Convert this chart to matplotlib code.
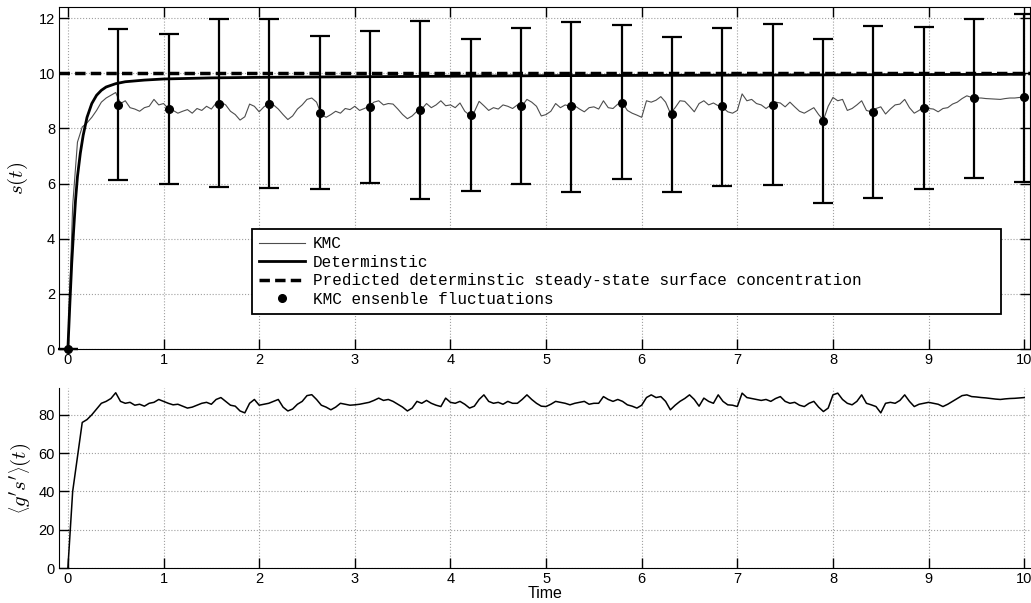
import numpy as np
import matplotlib.pyplot as plt
from matplotlib.lines import Line2D

plt.rcParams['font.family'] = ['Liberation Sans', 'DejaVu Sans']
plt.rcParams['mathtext.fontset'] = 'cm'

# KMC trace, sampled every 0.05 time units
t_kmc = np.arange(0, 10.001, 0.05)
s_kmc = [0, 5.2, 7.5, 8.05, 8.2, 8.4, 8.65, 8.95, 9.1, 9.2,
         9.3, 8.9, 9.0, 8.75, 8.7, 8.62, 8.75, 8.8, 9.05, 8.85,
         8.9, 8.72, 8.65, 8.55, 8.62, 8.68, 8.55, 8.72, 8.65, 8.8,
         8.7, 8.92, 8.95, 8.85, 8.62, 8.5, 8.3, 8.42, 8.88, 8.8,
         8.6, 8.78, 8.9, 8.85, 8.7, 8.5, 8.32, 8.45, 8.7, 8.85,
         9.05, 9.1, 8.95, 8.5, 8.4, 8.5, 8.62, 8.55, 8.72, 8.68,
         8.8, 8.65, 8.72, 8.8, 8.95, 9.0, 8.85, 8.9, 8.88, 8.7,
         8.5, 8.35, 8.45, 8.62, 8.7, 8.9, 8.75, 8.85, 9.0, 8.82,
         8.85, 8.75, 8.92, 8.62, 8.48, 8.6, 8.98, 8.82, 8.65, 8.75,
         8.7, 8.85, 8.8, 8.72, 8.85, 8.82, 9.05, 8.95, 8.8, 8.45,
         8.5, 8.62, 8.9, 8.75, 8.85, 8.8, 8.82, 8.7, 8.6, 8.75,
         8.78, 8.7, 9.0, 8.75, 8.72, 8.88, 8.92, 8.65, 8.55, 8.48,
         8.4, 9.0, 8.95, 9.02, 9.15, 8.95, 8.55, 8.75, 9.0, 8.98,
         8.8, 8.6, 8.9, 9.0, 8.85, 8.92, 8.82, 8.75, 8.6, 8.55,
         8.65, 9.25, 9.0, 9.05, 8.9, 8.85, 8.72, 8.85, 8.95, 8.92,
         8.78, 8.95, 8.78, 8.62, 8.55, 8.65, 8.75, 8.5, 8.3, 8.8,
         9.12, 9.0, 9.05, 8.65, 8.72, 8.85, 9.0, 8.65, 8.6, 8.72,
         8.78, 8.52, 8.7, 8.85, 8.88, 9.05, 8.75, 8.55, 8.65, 8.78,
         8.72, 8.7, 8.6, 8.72, 8.75, 8.88, 8.95, 9.08, 9.18, 9.12,
         9.1, 9.1, 9.08, 9.07, 9.06, 9.05, 9.08, 9.1, 9.1, 9.12,
         9.13]

gs_kmc = [0, 40, 58, 76, 77.5, 80, 83, 86, 87, 88.5,
          91.5, 87, 86, 86.5, 85, 85.5, 84.5, 86, 86.5, 88,
          87, 86, 85.2, 85.5, 84.5, 83.5, 84, 85, 86, 86.5,
          85.5, 88, 89, 87, 85, 84.5, 82, 81, 86, 88,
          85, 85.5, 86, 87, 88, 84, 82, 83, 85.5, 87,
          90, 90.5, 88, 85, 84, 82.6, 84, 86, 85.5, 85,
          85.2, 85.5, 86, 86.5, 87.5, 88.7, 87.5, 88, 87, 85.5,
          84, 82, 83.5, 87, 86, 87.5, 86, 85, 84.3, 88.7,
          86.5, 86, 87, 85.5, 83.5, 84.5, 88, 90.4, 87, 86,
          86.5, 85.5, 87, 86, 86, 88, 90.4, 88, 86, 84.5,
          84.3, 85.5, 87, 86.5, 86, 85.2, 86, 86.5, 87, 85.5,
          86, 86, 89.5, 88, 87, 88, 87, 85.2, 84.5, 83.5,
          85, 89, 90.4, 89, 89.5, 87, 82.6, 85, 87, 88.5,
          90.4, 88, 84.5, 88.7, 87, 86, 90.4, 87, 85.2, 85,
          84.3, 91.3, 89, 88.5, 88, 87.5, 88, 87, 88.5, 89.5,
          87, 86, 86.5, 85, 84.3, 86, 87, 84, 81.7, 83.5,
          90.4, 91.3, 88, 86, 85.2, 87, 90.4, 86, 85.2, 84.3,
          81, 86, 86.5, 86, 87.5, 90.4, 87, 84.3, 85.5, 86,
          86.5, 86, 85.5, 84.3, 85.5, 87, 88.5, 90, 90.4, 89.5,
          89.3, 89, 88.8, 88.5, 88.2, 88, 88.3, 88.5, 88.6, 88.8,
          89]

# deterministic solution
t_det = [0, 0.02, 0.04, 0.06, 0.08, 0.10, 0.13, 0.16, 0.20, 0.25, 0.30, 0.35,
         0.40, 0.50, 0.60, 0.80, 1.0, 1.5, 2.0, 3.0, 4.0, 5.0, 6.0, 7.0, 8.0,
         9.0, 10.0]
s_det = [0, 1.6, 3.1, 4.3, 5.4, 6.25, 7.1, 7.75, 8.4, 8.9, 9.2, 9.38,
         9.5, 9.62, 9.69, 9.75, 9.79, 9.83, 9.85, 9.87, 9.89, 9.91, 9.92, 9.93,
         9.94, 9.95, 9.96]
s_pred = 10.0

# ensemble mean and spread
t_ens = [0, 0.526, 1.053, 1.579, 2.105, 2.632, 3.158, 3.684, 4.211, 4.737,
         5.263, 5.789, 6.316, 6.842, 7.368, 7.895, 8.421, 8.947, 9.474, 10.0]
s_ens = [0, 8.85, 8.7, 8.9, 8.88, 8.57, 8.78, 8.65, 8.47, 8.8,
         8.8, 8.93, 8.52, 8.8, 8.83, 8.28, 8.6, 8.75, 9.1, 9.12]
ens_hi = [0, 11.6, 11.43, 11.97, 11.95, 11.36, 11.54, 11.9, 11.23, 11.64,
          11.87, 11.73, 11.33, 11.64, 11.77, 11.25, 11.72, 11.68, 11.97, 12.15]
ens_lo = [0, 6.13, 5.97, 5.88, 5.84, 5.8, 6.03, 5.45, 5.72, 5.98,
          5.7, 6.15, 5.7, 5.92, 5.93, 5.3, 5.46, 5.8, 6.2, 6.04]

fig = plt.figure(figsize=(10.31, 6.03), dpi=100)
ax1 = fig.add_axes([0.0575, 0.4212, 0.9415, 0.5672])
ax2 = fig.add_axes([0.0575, 0.058, 0.9415, 0.2986])

grid_kw = dict(color='#a0a0a0', linestyle=':', linewidth=0.8)

# top panel
l_kmc, = ax1.plot(t_kmc, s_kmc, color='#4d4d4d', linewidth=0.8)
l_det, = ax1.plot(t_det, s_det, color='black', linewidth=2)
l_pred = ax1.axhline(s_pred, color='black', linewidth=2.5, dashes=(3, 1.5))
yerr = [np.array(s_ens) - np.array(ens_lo), np.array(ens_hi) - np.array(s_ens)]
ax1.errorbar(t_ens, s_ens, yerr=yerr, fmt='o', color='black', markersize=5.5,
             elinewidth=1.6, capsize=7, capthick=1.6, clip_on=False)
h_ens = Line2D([], [], linestyle='none', marker='o', color='black', markersize=5.5)

ax1.set_xlim(-0.09, 10.06)
ax1.set_ylim(0, 12.4)
ax1.set_xticks(range(0, 11))
ax1.set_yticks(range(0, 13, 2))
ax1.grid(True, **grid_kw)
ax1.tick_params(direction='in', length=7, width=1, labelsize=10.5,
                top=True, right=True, pad=3)
ax1.set_ylabel(r'$s(t)$', fontsize=15, labelpad=6)

leg = ax1.legend([l_kmc, l_det, l_pred, h_ens],
                 ['KMC', 'Determinstic',
                  'Predicted determinstic steady-state surface concentration',
                  'KMC ensenble fluctuations'],
                 loc='lower left',
                 bbox_to_anchor=(0.1985, 0.102, 0.7715, 0.252), mode='expand',
                 prop={'family': 'Liberation Mono', 'size': 11.5},
                 frameon=True, fancybox=False, framealpha=1, edgecolor='black',
                 handlelength=2.9, handletextpad=0.45, labelspacing=0.22,
                 borderpad=0.45, borderaxespad=0)
leg.get_frame().set_linewidth(1.3)

# bottom panel
ax2.plot(t_kmc, gs_kmc, color='black', linewidth=1.1)
ax2.set_xlim(-0.09, 10.06)
ax2.set_ylim(0, 94)
ax2.set_xticks(range(0, 11))
ax2.set_yticks(range(0, 81, 20))
ax2.grid(True, **grid_kw)
ax2.spines['top'].set_visible(False)
ax2.spines['right'].set_visible(False)
ax2.tick_params(direction='in', length=7, width=1, labelsize=10.5, pad=3)
ax2.set_ylabel(r"$\left\langle g's'\right\rangle(t)$", fontsize=15, labelpad=4)
ax2.set_xlabel('Time', fontsize=11.5, labelpad=0)

fig.savefig('out.png', dpi=100)
